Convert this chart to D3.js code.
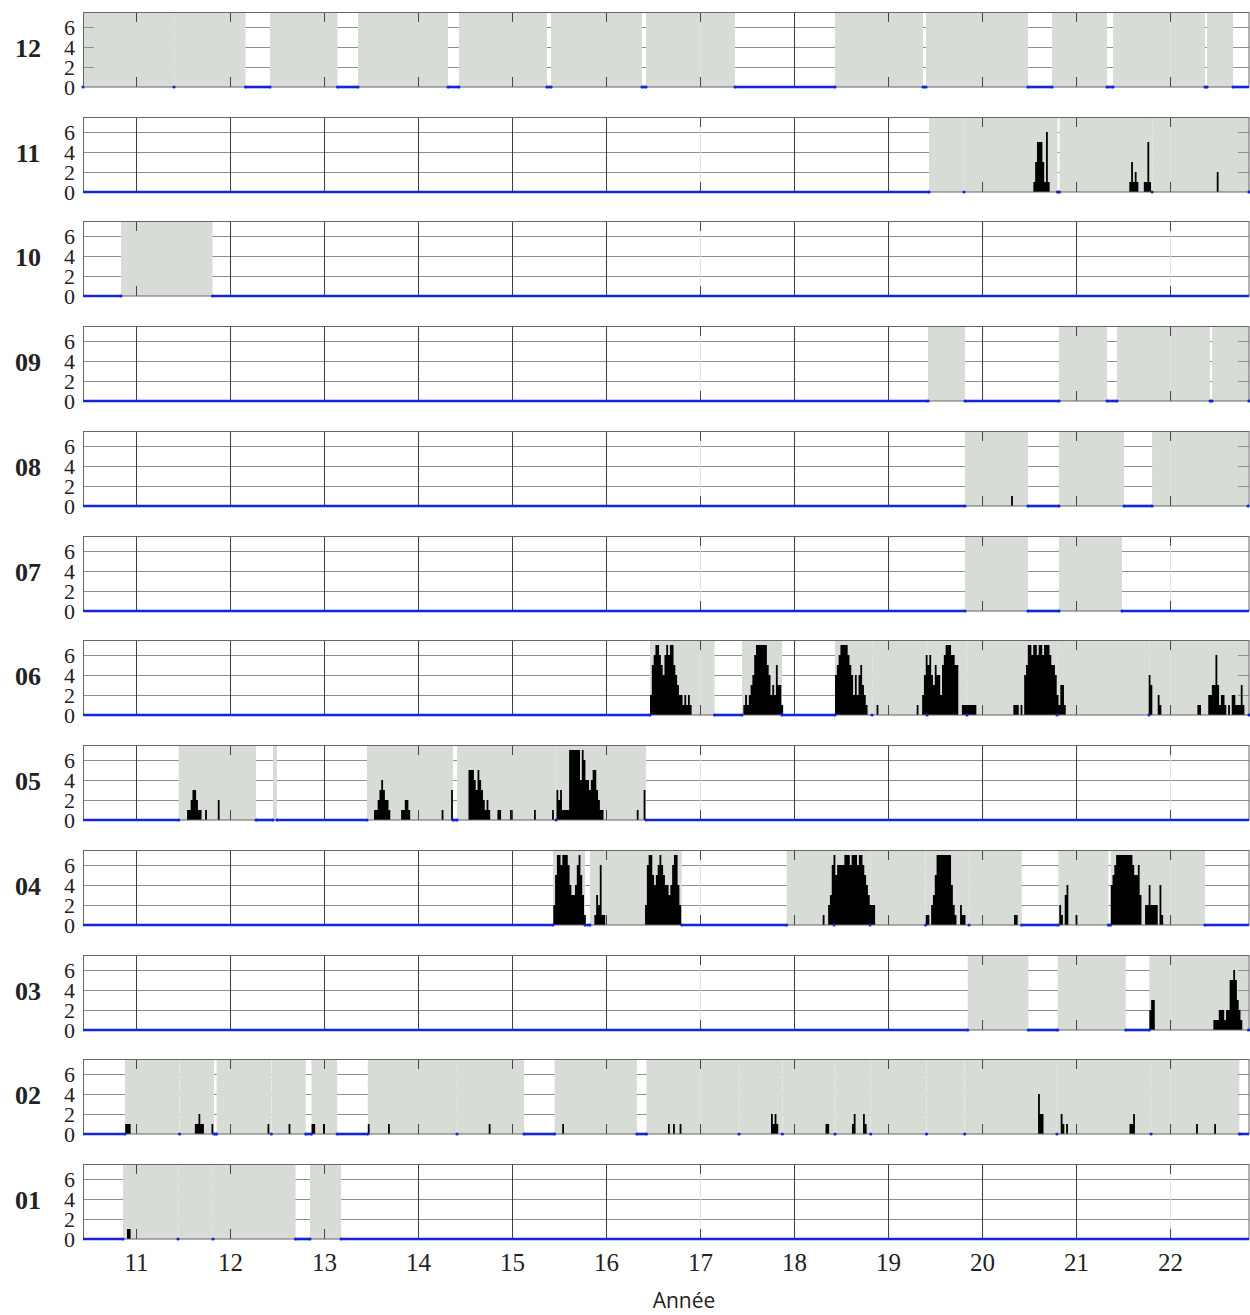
<!DOCTYPE html>
<html>
<head>
<meta charset="utf-8">
<script src="https://cdn.jsdelivr.net/npm/d3@7"></script>
<style>
  body { margin: 0; background: #fff; }
  svg { display: block; }
</style>
</head>
<body>
<svg id="chart" width="1250" height="1315"></svg>
<script>
// ---- data -------------------------------------------------------------
const months = ["12", "11", "10", "09", "08", "07", "06", "05", "04", "03", "02", "01"];
const yearTicks = [11, 12, 13, 14, 15, 16, 17, 18, 19, 20, 21, 22];
const faintYears = [17, 22];
const yTicks = [0, 2, 4, 6];
const xLabel = "Année";

// Observation seasons (decimal years). Each run is one shaded stretch;
// inner values are the seams between consecutive seasons.
const seasons12 = [[10.436, 11.404, 12.165], [12.426, 13.144], [13.362, 14.319], [14.436, 15.372],
  [15.415, 16.383], [16.426, 17.372], [18.436, 19.372], [19.404, 20.489], [20.745, 21.330],
  [21.394, 22.372], [22.394, 22.670]];
const seasons11 = [[19.436, 19.809, 20.803], [20.824, 21.809, 22.84]];
const seasons10 = [[10.840, 11.814]];
const seasons09 = [[19.426, 19.819], [20.819, 21.330], [21.436, 22.426], [22.447, 22.84]];
const seasons08 = [[19.819, 20.489], [20.819, 21.511], [21.809, 22.83]];
const seasons07 = [[19.819, 20.489], [20.819, 21.489]];
const seasons06 = [[16.468, 17.154], [17.447, 17.872],
  [18.436, 18.830, 19.415, 19.840, 20.798, 21.777, 22.84]];
const seasons05 = [[11.454, 12.277], [12.457, 12.500], [13.457, 14.372], [14.415, 15.468, 16.426]];
const seasons04 = [[15.436, 15.777], [15.830, 16.805],
  [17.922, 18.426, 18.809, 19.401, 19.862, 20.422], [20.812, 21.344], [21.369, 22.372]];
const seasons03 = [[19.848, 20.493], [20.805, 21.529], [21.780, 22.835]];
const seasons02 = [[10.883, 11.463, 11.830], [11.857, 12.440, 12.806], [12.867, 13.140],
  [13.466, 14.415, 15.128], [15.453, 16.328],
  [16.430, 17.415, 17.876, 18.436, 18.816, 19.409, 19.816, 20.797, 21.798, 22.738]];
const seasons01 = [[10.862, 11.447, 11.819, 12.697], [12.851, 13.181]];

// Weekly counts: each block starts at a decimal year, one value per week.
const counts11 = [
  { start: 20.546, weekly: [1, 3, 5, 5, 5, 3, 1, 6, 1] },
  { start: 21.567, weekly: [1, 3, 1, 2, 1, 0, 0, 0, 1, 1, 5, 1] },
  { start: 22.497, weekly: [2] }
];
const counts08 = [{ start: 20.309, weekly: [1] }];
const counts06 = [
  { start: 16.468, weekly: [2, 5, 6, 7, 7, 6, 5, 4, 6, 7, 6, 7, 7, 5, 4, 3, 2, 2, 1, 2, 1, 2, 1] },
  { start: 17.461, weekly: [1, 2, 1, 2, 3, 4, 6, 7, 7, 7, 7, 7, 7, 5, 4, 2, 3, 2, 5, 3, 3, 1] },
  { start: 18.436, weekly: [4, 5, 6, 7, 7, 7, 7, 6, 5, 4, 2, 4, 2, 4, 5, 3, 2, 1, 0, 0, 0, 0, 0, 1] },
  { start: 19.305, weekly: [1, 0, 0, 2, 4, 6, 5, 6, 4, 3, 5, 4, 4, 2, 5, 6, 7, 7, 7, 6, 6, 5, 5, 0, 0, 1, 1, 1, 1, 1, 1, 1, 1] },
  { start: 20.333, weekly: [1, 1, 1, 0, 1, 0, 4, 5, 7, 7, 6, 7, 7, 6, 7, 7, 6, 7, 7, 7, 6, 5, 5, 4, 2, 1, 3, 3, 1] },
  { start: 21.773, weekly: [4, 3, 0, 0, 0, 2, 1] },
  { start: 22.291, weekly: [1, 1, 0, 0, 0, 0, 2, 2, 3, 3, 6, 3, 1, 2, 2, 1, 0, 1, 0, 2, 2, 1, 1, 1, 3, 1] }
];
const counts05 = [
  { start: 11.543, weekly: [1, 1, 2, 3, 3, 2, 1, 1, 0, 0, 1, 0, 0, 0, 0, 0, 0, 2] },
  { start: 13.532, weekly: [1, 1, 2, 3, 4, 3, 2, 2, 1, 0, 0, 0, 0, 0, 0, 1, 1, 2, 2, 1] },
  { start: 14.251, weekly: [1] },
  { start: 14.352, weekly: [3] },
  { start: 14.537, weekly: [5, 5, 5, 4, 3, 5, 4, 3, 2, 1, 2, 1, 0, 0, 0, 0, 1, 1] },
  { start: 14.979, weekly: [1] },
  { start: 15.234, weekly: [1] },
  { start: 15.426, weekly: [1] },
  { start: 15.473, weekly: [3, 2, 3, 1, 1, 1, 1, 7, 7, 7, 7, 7, 7, 4, 7, 6, 4, 4, 3, 4, 5, 5, 3, 2, 1, 1] },
  { start: 16.327, weekly: [1] },
  { start: 16.400, weekly: [3] }
];
const counts04 = [
  { start: 15.439, weekly: [2, 5, 7, 7, 6, 7, 7, 7, 6, 4, 3, 3, 4, 6, 7, 5, 3, 1] },
  { start: 15.876, weekly: [1, 3, 2, 6, 1, 1] },
  { start: 16.415, weekly: [2, 6, 7, 7, 5, 4, 5, 6, 7, 6, 5, 4, 4, 3, 4, 6, 7, 7, 4, 2] },
  { start: 18.305, weekly: [1, 0, 0, 2, 3, 6, 7, 5, 6, 6, 6, 6, 7, 7, 7, 6, 7, 7, 7, 6, 7, 7, 6, 5, 4, 3, 2, 2, 2] },
  { start: 19.401, weekly: [1, 1, 0, 2, 3, 5, 7, 7, 7, 7, 7, 7, 7, 7, 4, 2, 1, 0, 0, 2, 1, 1] },
  { start: 20.340, weekly: [1, 1] },
  { start: 20.822, weekly: [2, 1, 0, 3, 4, 0, 0, 0, 0, 1] },
  { start: 21.369, weekly: [4, 5, 6, 7, 7, 7, 7, 7, 7, 7, 7, 7, 6, 5, 5, 6, 3, 0, 0, 2, 2, 4, 2, 2, 2, 2, 0, 4, 1] }
];
const counts03 = [
  { start: 21.780, weekly: [2, 3, 3] },
  { start: 22.461, weekly: [1, 1, 1, 2, 2, 2, 1, 2, 2, 5, 5, 6, 5, 3, 2, 1] }
];
const counts02 = [
  { start: 10.885, weekly: [1, 1, 1] },
  { start: 11.626, weekly: [1, 1, 2, 1, 1] },
  { start: 11.803, weekly: [1] },
  { start: 12.399, weekly: [1] },
  { start: 12.623, weekly: [1] },
  { start: 12.867, weekly: [1, 1] },
  { start: 12.989, weekly: [1] },
  { start: 13.466, weekly: [1] },
  { start: 13.681, weekly: [1] },
  { start: 14.752, weekly: [1] },
  { start: 15.534, weekly: [1] },
  { start: 16.659, weekly: [1] },
  { start: 16.713, weekly: [1] },
  { start: 16.783, weekly: [1] },
  { start: 17.755, weekly: [2, 1, 2, 1] },
  { start: 18.335, weekly: [1, 1] },
  { start: 18.616, weekly: [1, 2] },
  { start: 18.734, weekly: [2, 1] },
  { start: 20.596, weekly: [4, 2, 2] },
  { start: 20.837, weekly: [2, 1, 0, 1] },
  { start: 21.569, weekly: [1, 1, 2] },
  { start: 22.277, weekly: [1] },
  { start: 22.470, weekly: [1] }
];
const counts01 = [{ start: 10.904, weekly: [1, 1] }];

const seasonsByMonth = {
  "12": seasons12, "11": seasons11, "10": seasons10, "09": seasons09, "08": seasons08, "07": seasons07,
  "06": seasons06, "05": seasons05, "04": seasons04, "03": seasons03, "02": seasons02, "01": seasons01
};
const countsByMonth = {
  "11": counts11, "08": counts08, "06": counts06, "05": counts05, "04": counts04,
  "03": counts03, "02": counts02, "01": counts01
};

// ---- layout -----------------------------------------------------------
const plotLeft = 83, plotRight = 1249;
const firstTop = 12, panelStep = 104.73, panelH = 75;
const xDomain = [10.436, 22.84];
const week = 1 / 52;

const serif = "'Liberation Serif', 'DejaVu Serif', serif";
const shade = "#d8dcd7";
const blue = "#1426dc";

const x = d3.scaleLinear().domain(xDomain).range([plotLeft, plotRight]);
const y = d3.scaleLinear().domain([0, 7.5]).range([panelH, 0]);

// weekly counts as a solid stepped area
const stepArea = d3.area()
  .x(d => x(d.t))
  .y0(y(0))
  .y1(d => y(d.v))
  .curve(d3.curveStepAfter);

const svg = d3.select("#chart");

function stripDomain(sel) { sel.select(".domain").remove(); }

months.forEach((m, i) => {
  const top = Math.round(firstTop + i * panelStep);
  const g = svg.append("g").attr("transform", `translate(0,${top})`);
  const runs = seasonsByMonth[m] || [];
  const blocks = countsByMonth[m] || [];

  // horizontal grid
  g.append("g")
    .attr("transform", `translate(${plotLeft},0)`)
    .call(d3.axisLeft(y).tickValues([2, 4, 6]).tickSize(-(plotRight - plotLeft)).tickFormat(""))
    .call(stripDomain)
    .selectAll("line").attr("stroke", "#8e8e8e");

  // vertical year grid
  g.append("g")
    .attr("transform", `translate(0,${panelH})`)
    .call(d3.axisBottom(x).tickValues(yearTicks.filter(t => !faintYears.includes(t)))
      .tickSize(-panelH).tickFormat(""))
    .call(stripDomain)
    .selectAll("line").attr("stroke", "#3a3a3a");

  // shaded seasons (split at seams)
  const pieces = [];
  runs.forEach(r => {
    for (let k = 0; k < r.length - 1; k++) {
      pieces.push({ a: r[k], b: r[k + 1], seamL: k > 0, seamR: k < r.length - 2 });
    }
  });
  g.append("g").selectAll("rect").data(pieces).join("rect")
    .attr("x", d => x(d.a) + (d.seamL ? 0.12 : 0))
    .attr("width", d => x(d.b) - x(d.a) - (d.seamL ? 0.12 : 0) - (d.seamR ? 0.12 : 0))
    .attr("y", 0)
    .attr("height", panelH)
    .attr("fill", shade);

  // faint year lines
  g.append("g")
    .attr("transform", `translate(0,${panelH})`)
    .call(d3.axisBottom(x).tickValues(faintYears).tickSize(-panelH).tickFormat(""))
    .call(stripDomain)
    .selectAll("line").attr("stroke", "#e0e3df");

  // inward ticks
  g.append("g")
    .call(d3.axisBottom(x).tickValues(yearTicks).tickSize(10).tickFormat(""))
    .call(stripDomain)
    .selectAll("line").attr("stroke", "#444");
  g.append("g")
    .attr("transform", `translate(0,${panelH})`)
    .call(d3.axisTop(x).tickValues(yearTicks).tickSize(10).tickFormat(""))
    .call(stripDomain)
    .selectAll("line").attr("stroke", "#444");
  g.append("g")
    .attr("transform", `translate(${plotLeft},0)`)
    .call(d3.axisRight(y).tickValues([2, 4, 6]).tickSize(11).tickFormat(""))
    .call(stripDomain)
    .selectAll("line").attr("stroke", "#8e8e8e");
  g.append("g")
    .attr("transform", `translate(${plotRight},0)`)
    .call(d3.axisLeft(y).tickValues([2, 4, 6]).tickSize(11).tickFormat(""))
    .call(stripDomain)
    .selectAll("line").attr("stroke", "#8e8e8e");

  // weekly count bars
  const series = blocks.map(b => {
    const pts = b.weekly.map((v, k) => ({ t: b.start + k * week, v }));
    pts.push({ t: b.start + b.weekly.length * week, v: b.weekly[b.weekly.length - 1] });
    return pts;
  });
  g.append("g").selectAll("path").data(series).join("path")
    .attr("d", stepArea)
    .attr("fill", "#000");

  // frame
  g.append("rect")
    .attr("x", plotLeft + 0.5).attr("y", 0.5)
    .attr("width", plotRight - plotLeft - 0.5).attr("height", panelH - 0.5)
    .attr("fill", "none").attr("stroke", "#666").attr("stroke-width", 1);

  // zero level where there is no observation
  const gaps = [];
  let cur = xDomain[0];
  runs.forEach(r => {
    if (r[0] > cur) gaps.push([cur, r[0]]);
    cur = Math.max(cur, r[r.length - 1]);
  });
  if (cur < xDomain[1]) gaps.push([cur, xDomain[1]]);
  g.append("g").selectAll("line").data(gaps).join("line")
    .attr("x1", d => x(d[0])).attr("x2", d => x(d[1]))
    .attr("y1", y(0)).attr("y2", y(0))
    .attr("stroke", blue).attr("stroke-width", 2.6);

  const marks = runs.flat();
  g.append("g").selectAll("circle").data(marks).join("circle")
    .attr("cx", d => x(d)).attr("cy", y(0)).attr("r", 1.6)
    .attr("fill", blue);

  // y labels
  g.append("g")
    .attr("transform", `translate(${plotLeft},0)`)
    .call(d3.axisLeft(y).tickValues(yTicks).tickSize(0).tickPadding(8).tickFormat(d3.format("d")))
    .call(stripDomain)
    .selectAll("text")
    .attr("font-family", serif).attr("font-size", 22).attr("fill", "#222");

  // month label
  g.append("text")
    .attr("x", 28).attr("y", panelH / 2 - 1)
    .attr("text-anchor", "middle").attr("dominant-baseline", "central")
    .attr("font-family", serif).attr("font-weight", "bold").attr("font-size", 26)
    .attr("fill", "#222")
    .text(m);
});

// x axis labels under the last panel
const lastBottom = Math.round(firstTop + (months.length - 1) * panelStep) + panelH;
svg.append("g")
  .attr("transform", `translate(0,${lastBottom})`)
  .call(d3.axisBottom(x).tickValues(yearTicks).tickSize(0).tickPadding(14).tickFormat(d3.format("d")))
  .call(stripDomain)
  .selectAll("text")
  .attr("font-family", serif).attr("font-size", 25).attr("fill", "#222");

svg.append("text")
  .attr("x", 684).attr("y", 1308)
  .attr("text-anchor", "middle")
  .attr("font-family", "'Open Sans', 'Liberation Sans', sans-serif")
  .attr("font-size", 21).attr("fill", "#222")
  .text(xLabel);
</script>
</body>
</html>
